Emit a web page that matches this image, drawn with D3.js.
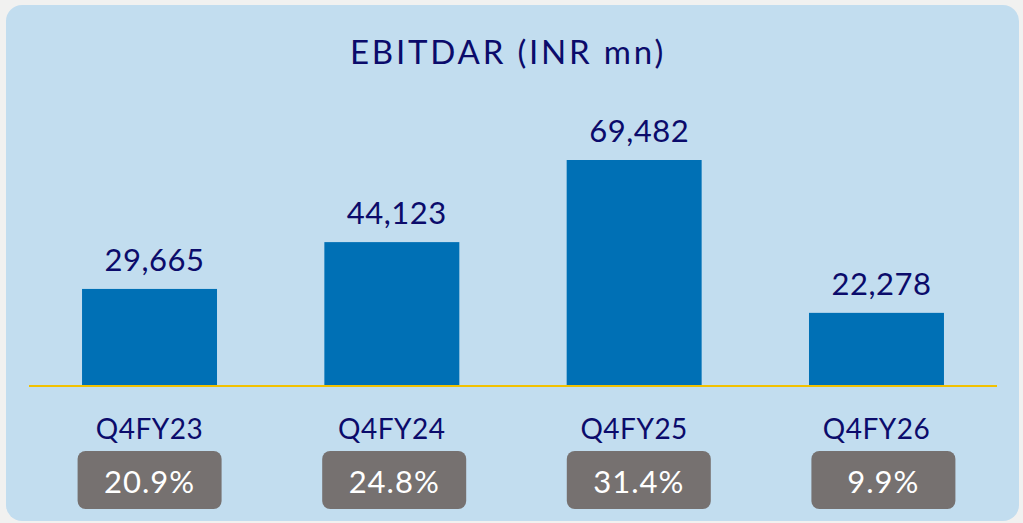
<!DOCTYPE html>
<html>
<head>
<meta charset="utf-8">
<script src="https://cdn.jsdelivr.net/npm/d3@7"></script>
<style>
	html, body { margin: 0; padding: 0; background: #f1f1f0; }
	svg { display: block; }
	text { font-family: 'Lato', 'Noto Sans', sans-serif; }
</style>
</head>
<body>
<svg id="chart" width="1023" height="523"></svg>
<script>
	const categories = ['Q4FY23', 'Q4FY24', 'Q4FY25', 'Q4FY26'];
	const ebitdar = [29665, 44123, 69482, 22278];
	const margins = ['20.9%', '24.8%', '31.4%', '9.9%'];
	const title = 'EBITDAR (INR mn)';

	const baseY = 385;
	const navy = '#0b0b6b';

	let svg = d3.select('#chart');

	// panel
	svg.append('rect')
		.attr('x', 6)
		.attr('y', 5)
		.attr('width', 1013)
		.attr('height', 516)
		.attr('rx', 16)
		.attr('fill', '#c2ddef');

	let x = d3.scaleBand()
		.domain(categories)
		.range([28, 998])
		.paddingInner(0.443)
		.paddingOuter(0.223);

	// margin boxes sit on their own slightly wider grid
	let boxX = d3.scaleBand()
		.domain(categories)
		.range([77.6, 955.4])
		.paddingInner(0.4113)
		.paddingOuter(0);

	let y = d3.scaleLinear()
		.domain([0, d3.max(ebitdar)])
		.range([baseY, 160]);

	svg.append('text')
		.attr('x', 508)
		.attr('y', 64)
		.attr('text-anchor', 'middle')
		.attr('fill', navy)
		.style('font-size', '33px')
		.style('letter-spacing', '2.8px')
		.text(title);

	let data = categories.map((c, i) => ({cat: c, value: ebitdar[i], margin: margins[i]}));

	svg.selectAll('rect.bar')
		.data(data)
		.enter().append('rect')
		.attr('class', 'bar')
		.attr('x', (d) => x(d.cat))
		.attr('y', (d) => y(d.value))
		.attr('width', x.bandwidth())
		.attr('height', (d) => baseY - y(d.value))
		.attr('fill', '#0070b5');

	svg.selectAll('text.value')
		.data(data)
		.enter().append('text')
		.attr('class', 'value')
		.attr('x', (d) => x(d.cat) + x.bandwidth() / 2 + 5)
		.attr('y', (d) => y(d.value) - 18)
		.attr('text-anchor', 'middle')
		.attr('fill', navy)
		.style('font-size', '31px')
		.style('letter-spacing', '0.5px')
		.text((d) => d3.format(',')(d.value));

	// axis line
	svg.append('line')
		.attr('x1', 29)
		.attr('x2', 997)
		.attr('y1', baseY + 1)
		.attr('y2', baseY + 1)
		.attr('stroke', '#f2c100')
		.attr('stroke-width', 2);

	svg.selectAll('text.cat')
		.data(data)
		.enter().append('text')
		.attr('class', 'cat')
		.attr('x', (d) => x(d.cat) + x.bandwidth() / 2)
		.attr('y', 439)
		.attr('text-anchor', 'middle')
		.attr('fill', navy)
		.style('font-size', '28px')
		.style('letter-spacing', '0.5px')
		.text((d) => d.cat);

	let box = svg.selectAll('g.margin')
		.data(data)
		.enter().append('g')
		.attr('class', 'margin');

	box.append('rect')
		.attr('x', (d) => boxX(d.cat))
		.attr('y', 451)
		.attr('width', boxX.bandwidth())
		.attr('height', 58)
		.attr('rx', 8)
		.attr('fill', '#767170');

	box.append('text')
		.attr('x', (d) => boxX(d.cat) + boxX.bandwidth() / 2)
		.attr('y', 493)
		.attr('text-anchor', 'middle')
		.attr('fill', '#ffffff')
		.style('font-size', '31px')
		.style('letter-spacing', '1px')
		.text((d) => d.margin);
</script>
</body>
</html>
